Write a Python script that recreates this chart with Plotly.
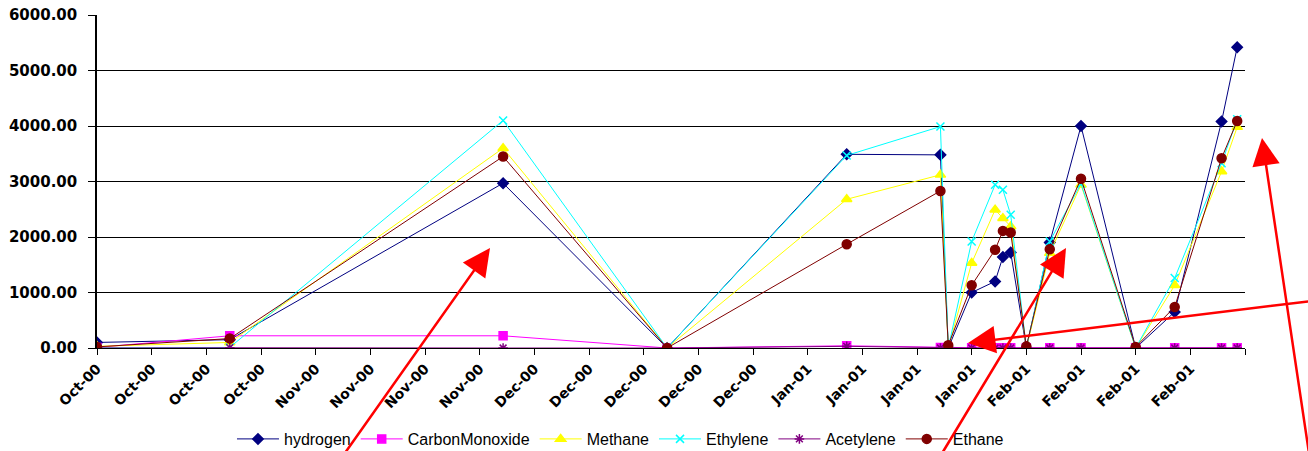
import plotly.graph_objects as go

dates = ["2000-10-06", "2000-10-23", "2000-11-27", "2000-12-18", "2001-01-10",
         "2001-01-22", "2001-01-23", "2001-01-26", "2001-01-29", "2001-01-30",
         "2001-01-31", "2001-02-02", "2001-02-05", "2001-02-09", "2001-02-16",
         "2001-02-21", "2001-02-27", "2001-03-01"]

hydrogen = [100, 150, 2970, 0, 3490, 3480, 0, 1000, 1200, 1640, 1720, 0, 1900, 4000, 0, 650, 4080, 5420]
carbon_monoxide = [10, 220, 220, 0, 40, 10, 5, 5, 5, 5, 5, 5, 5, 5, 5, 5, 5, 5]
methane = [30, 100, 3600, 0, 2680, 3120, 0, 1530, 2490, 2340, 2190, 0, 1710, 2940, 0, 1130, 3180, 3980]
ethylene = [0, 10, 4100, 0, 3470, 3990, 0, 1920, 2940, 2850, 2400, 0, 1920, 2960, 0, 1260, 3330, 4120]
acetylene = [0, 5, 0, 0, 30, 0, 0, 0, 0, 0, 0, 0, 0, 0, 0, 0, 0, 0]
ethane = [20, 170, 3450, 0, 1870, 2830, 50, 1130, 1770, 2110, 2080, 30, 1780, 3050, 20, 740, 3420, 4090]

tick_dates = ["2000-10-06", "2000-10-13", "2000-10-20", "2000-10-27", "2000-11-03",
              "2000-11-10", "2000-11-17", "2000-11-24", "2000-12-01", "2000-12-08",
              "2000-12-15", "2000-12-22", "2000-12-29", "2001-01-05", "2001-01-12",
              "2001-01-19", "2001-01-26", "2001-02-02", "2001-02-09", "2001-02-16",
              "2001-02-23", "2001-03-02"]
tick_labels = ["Oct-00"] * 4 + ["Nov-00"] * 4 + ["Dec-00"] * 5 + ["Jan-01"] * 4 + ["Feb-01"] * 4 + [""]

y_ticks = [0, 1000, 2000, 3000, 4000, 5000, 6000]

x_range = ["2000-10-06", "2001-03-02"]
y_range = [0, 6000]

series = [
    ("hydrogen", hydrogen, "#000080", "diamond", 8),
    ("CarbonMonoxide", carbon_monoxide, "#FF00FF", "square", 8),
    ("Methane", methane, "#FFFF00", "triangle-up", 9),
    ("Ethylene", ethylene, "#00FFFF", "x-thin", 8),
    ("Acetylene", acetylene, "#800080", "asterisk", 8),
    ("Ethane", ethane, "#800000", "circle", 9),
]

fig = go.Figure()
for name, vals, color, sym, size in series:
    fig.add_trace(go.Scatter(
        x=dates, y=vals, name=name, mode="lines+markers",
        line=dict(color=color, width=1),
        marker=dict(symbol=sym, size=size, color=color,
                    line=dict(color=color, width=1.5)),
    ))

# figure is a little larger than the 1308x451 window (overflow hidden) so that
# legend / arrows never push the margins
W, H = 1340, 490
# plot area in page pixels
L, R, T, B = 97, 1245, 15, 348


def px_to_paper(px, py):
    return (px - L) / (R - L), (B - py) / (B - T)


# red pointer arrows: (head pixel, tail pixel)
arrows = [
    ((490, 248), (340, 460)),
    ((1066, 248), (938, 460)),
    ((968, 343), (1320, 300)),
    ((1262, 138), (1310, 460)),
]
for (hx, hy), (tx, ty) in arrows:
    x, y = px_to_paper(hx, hy)
    fig.add_annotation(
        x=x, y=y, xref="paper", yref="paper", text="", showarrow=True,
        ax=tx - hx, ay=ty - hy, axref="pixel", ayref="pixel",
        arrowhead=2, arrowsize=2.2, arrowwidth=2.5, arrowcolor="#FF0000",
    )

fig.update_layout(
    width=W, height=H,
    margin=dict(l=L, r=W - R, t=T, b=H - B, pad=0),
    paper_bgcolor="white", plot_bgcolor="white",
    font=dict(family="Liberation Sans, Arial", color="black"),
    showlegend=True,
    legend=dict(orientation="h", x=0.456, xanchor="center",
                y=(B - 439) / (B - T), yanchor="middle", itemwidth=42,
                font=dict(size=16, family="Liberation Sans, Arial"), tracegroupgap=0),
)
fig.update_xaxes(
    type="date", range=x_range, automargin=False,
    tickmode="array", tickvals=tick_dates, ticktext=tick_labels,
    tickangle=-45, tickfont=dict(size=14, family="DejaVu Sans", weight="bold"),
    ticks="outside", ticklen=6, tickcolor="black", ticklabeloverflow="allow",
    showline=True, linecolor="black", linewidth=1,
    showgrid=False, zeroline=False,
)
fig.update_yaxes(
    range=y_range, automargin=False, tickmode="array", tickvals=y_ticks,
    ticktext=[f"{v:.2f}" for v in y_ticks],
    tickfont=dict(size=15, family="DejaVu Sans", weight="bold"),
    ticks="outside", ticklen=7, tickcolor="black", ticklabeloverflow="allow",
    ticklabelstandoff=8,
    showline=True, linecolor="black", linewidth=1.5,
    showgrid=True, gridcolor="black", gridwidth=1, zeroline=False,
)

fig.write_html("out.html", config={"displayModeBar": False},
               post_script="document.body.style.margin='0';document.body.style.overflow='hidden';")
